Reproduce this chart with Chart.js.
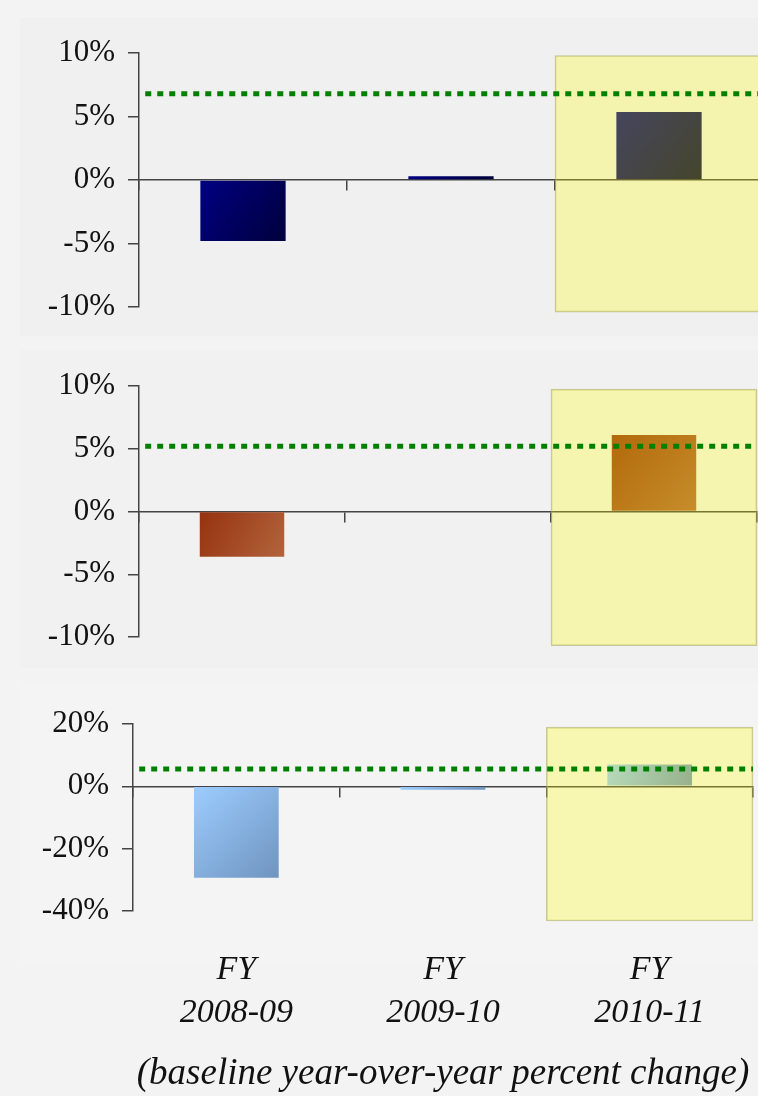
<!DOCTYPE html>
<html><head><meta charset="utf-8">
<script src="https://cdn.jsdelivr.net/npm/chart.js@4.4.1/dist/chart.umd.min.js"></script>
<style>
html,body{margin:0;padding:0;width:758px;height:1096px;overflow:hidden;background:#f3f3f3;}
.p{position:absolute;left:0;width:770px;}
.bg{position:absolute;background:#f0f0f0;}
</style></head><body>
<div class="bg" style="left:20px;top:18px;width:738px;height:318px;"></div>
<div class="bg" style="left:20px;top:350px;width:738px;height:318px;background:#f1f1f1"></div>
<div class="bg" style="left:20px;top:684px;width:738px;height:280px;background:#f4f4f4"></div>
<div class="p" style="top:0;height:340px"><canvas id="c1" width="770" height="340"></canvas></div>
<div class="p" style="top:340px;height:330px"><canvas id="c2" width="770" height="330"></canvas></div>
<div class="p" style="top:670px;height:426px"><canvas id="c3" width="770" height="426"></canvas></div>
<script>
// ---- data ----
const categories = [['FY','2008-09'],['FY','2009-10'],['FY','2010-11']];
const panel1Values = [-4.8, 0.3, 5.35];
const panel2Values = [-3.6, 0, 6.1];
const panel3Values = [-29.3, -1.1, 7.0];
const panel1Target = 6.8;
const panel2Target = 5.2;
const panel3Target = 5.6;
const panel1Highlight = [-10.4, 9.8];
const panel2Highlight = [-10.7, 9.75];
const panel3Highlight = [-43.2, 19.0];
const panel1Axis = [-10, 10, 5];
const panel2Axis = [-10, 10, 5];
const panel3Axis = [-40, 20, 20];
const highlightIndex = 2;
const axisTitle = '(baseline year-over-year percent change)';

Chart.defaults.font.family = '"Liberation Serif", serif';
Chart.defaults.color = '#111';

function barGradient(c1, c2, barPct) {
  return function(ctx) {
    if (ctx.type !== 'data') return c1;
    const chart = ctx.chart;
    const xs = chart.scales.x, ys = chart.scales.y;
    if (!xs || !ys || !chart.chartArea) return c1;
    const v = ctx.raw; if (v == null) return c1;
    const n = chart.data.labels.length;
    const half = xs.width / n * barPct / 2;
    const xc = xs.getPixelForValue(ctx.dataIndex);
    const ya = ys.getPixelForValue(0), yb = ys.getPixelForValue(v);
    const g = chart.ctx.createLinearGradient(xc - half, Math.min(ya, yb), xc + half, Math.max(ya, yb) + 0.01);
    g.addColorStop(0, c1); g.addColorStop(1, c2);
    return g;
  };
}

function makeChart(id, o) {
  const barPct = 0.41;
  const hl = categories.map((c, i) => i === highlightIndex ? o.highlight : null);
  const scales = {
    x: {
      type: 'category', position: {y: 0}, offset: true,
      grid: {offset: true, drawOnChartArea: false, drawTicks: true, tickLength: 10, color: '#444', lineWidth: 1.5},
      border: {display: true, color: '#444', width: 1.5},
      ticks: {display: false},
      afterFit: s => { s.height = 0; }
    },
    xl: {type: 'linear', display: false, min: 0, max: 1, offset: false, grid: {offset: false}},
    y: {
      position: 'left', min: o.axis[0], max: o.axis[1],
      ticks: {stepSize: o.axis[2], callback: v => v + '%', color: '#111',
        font: {size: 31}, padding: 13},
      grid: {drawOnChartArea: false, tickLength: 11, color: '#444', lineWidth: 1.5},
      border: {color: '#444', width: 1.5},
      afterFit: s => { s.width = o.left; }
    }
  };
  if (o.bottomAxis) {
    scales.x2 = {
      type: 'category', position: 'bottom', labels: categories, offset: true,
      grid: {display: false, drawTicks: false},
      border: {display: false},
      ticks: {color: '#111', font: {style: 'italic', size: 34, lineHeight: 1.25}, padding: 38,
        maxRotation: 0, autoSkip: false},
      title: {display: true, text: axisTitle, color: '#111',
        font: {style: 'italic', size: 37, lineHeight: 1.2}, padding: {top: 0, bottom: 0}},
      afterFit: s => { s.height = o.bottomAxis; }
    };
  }
  return new Chart(document.getElementById(id), {
    type: 'bar',
    data: {
      labels: categories,
      datasets: [
        {
          type: 'line', xAxisID: 'xl', yAxisID: 'y', order: 0,
          data: [{x: 0.01, y: o.target}, {x: 1, y: o.target}],
          borderColor: '#008000', borderWidth: 5, borderDash: [6, 6], borderCapStyle: 'butt',
          pointRadius: 0, clip: false
        },
        {
          type: 'bar', xAxisID: 'x', yAxisID: 'y', order: 1, grouped: false,
          data: hl, backgroundColor: 'rgba(255,255,0,0.27)',
          borderColor: 'rgba(160,160,90,0.55)', borderWidth: 1, borderSkipped: false,
          barPercentage: 1, categoryPercentage: 1, clip: false
        },
        {
          type: 'bar', xAxisID: 'x', yAxisID: 'y', order: 2, grouped: false,
          data: o.values, backgroundColor: barGradient(o.c1, o.c2, barPct),
          borderWidth: 0, barPercentage: barPct, categoryPercentage: 1
        }
      ]
    },
    options: {
      responsive: false, animation: false, devicePixelRatio: 1,
      layout: {padding: o.padding},
      plugins: {legend: {display: false}, tooltip: {enabled: false}},
      scales
    }
  });
}

makeChart('c1', {values: panel1Values, target: panel1Target, highlight: panel1Highlight, axis: panel1Axis,
  c1: '#000082', c2: '#00003c', left: 139, padding: {left: 0, top: 53, right: 7, bottom: 33}});
makeChart('c2', {values: panel2Values, target: panel2Target, highlight: panel2Highlight, axis: panel2Axis,
  c1: '#963210', c2: '#b2643c', left: 139, padding: {left: 0, top: 46, right: 13, bottom: 33}});
makeChart('c3', {values: panel3Values, target: panel3Target, highlight: panel3Highlight, axis: panel3Axis,
  c1: '#9ccdff', c2: '#7094c0', left: 133, padding: {left: 0, top: 54, right: 17, bottom: 0}, bottomAxis: 185});
</script>
</body></html>
